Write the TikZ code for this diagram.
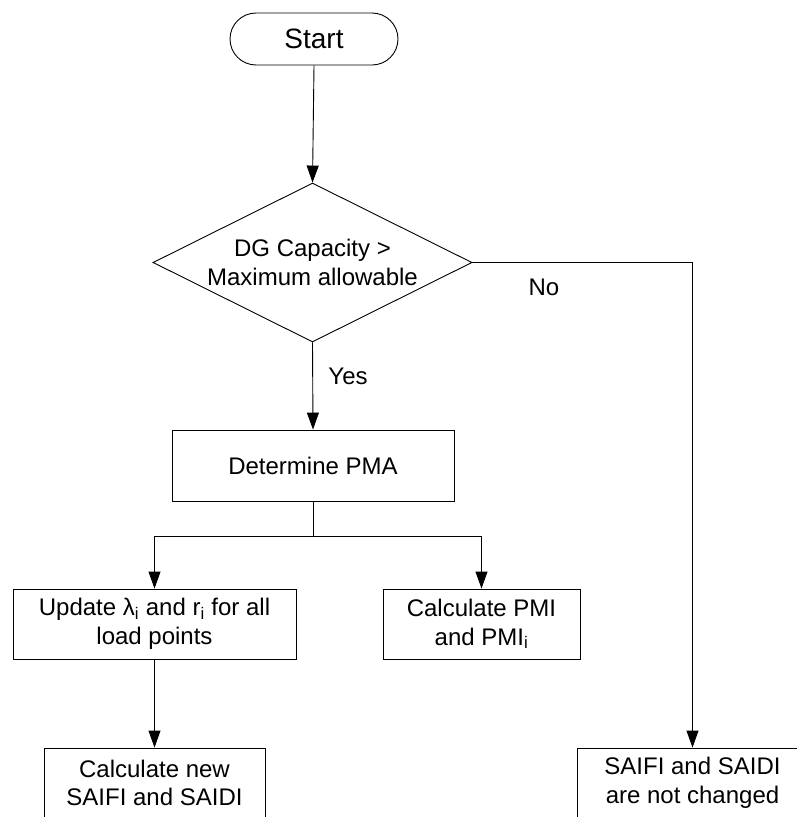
\documentclass[tikz,border=0pt]{standalone}
\usepackage{fontspec}
\setmainfont{Liberation Sans}
\usetikzlibrary{shapes.geometric,arrows.meta}
\begin{document}
\begin{tikzpicture}[x=1pt,y=-1pt,
  every node/.style={font=\fontsize{24}{28.5}\selectfont, align=center, inner sep=0pt},
  proc/.style={draw=black, line width=0.9pt, rectangle, minimum height=70pt},
  term/.style={draw=black, line width=0.9pt, rectangle, rounded corners=26pt,
               minimum width=168pt, minimum height=52pt, font=\fontsize{28}{32}\selectfont},
  decision/.style={draw=black, line width=0.9pt, diamond, shape aspect=2,
                   minimum width=319pt, minimum height=159pt},
  flow/.style={line width=0.9pt, -{Triangle[length=17pt,width=12pt]}},
  link/.style={line width=0.9pt},
  lbl/.style={font=\fontsize{24}{28}\selectfont}]
\useasboundingbox (0,0) rectangle (797,817);
\clip (0,0) rectangle (797,817);

% nodes
\node[term] (start) at (314,39) {Start};
\node[decision] (dec) at (312.5,262.5) {DG Capacity >\\Maximum allowable};
\node[proc, minimum width=282pt, minimum height=71pt] (pma) at (313,465.5) {Determine PMA};
\node[proc, minimum width=283pt] (upd) at (154.5,624) {Update λ\textsubscript{i} and r\textsubscript{i} for all\\load points};
\node[proc, minimum width=197pt] (pmi) at (481.5,624) {Calculate PMI\\and PMI\textsubscript{i}};
\node[proc, minimum width=221pt] (new) at (154.5,783) {Calculate new\\SAIFI and SAIDI};
\node[proc, minimum width=231pt] (nc) at (692.5,783) {SAIFI and SAIDI\\are not changed};

% connectors
\coordinate (split) at (313,536);
\coordinate (noturn) at (692.5,262.5);
\draw[flow] (start.south) -- (dec.north);
\draw[flow] (dec.south) -- (pma.north);
\draw[link] (pma.south) -- (split);
\draw[flow] (split) -| (upd.north);
\draw[flow] (split) -| (pmi.north);
\draw[flow] (upd.south) -- (new.north);
\draw[flow] (dec.east) -- (noturn) -- (nc.north);

% branch labels
\node[lbl] (yes) at (348,376) {Yes};
\node[lbl] (no) at (544,287) {No};
\end{tikzpicture}
\end{document}
